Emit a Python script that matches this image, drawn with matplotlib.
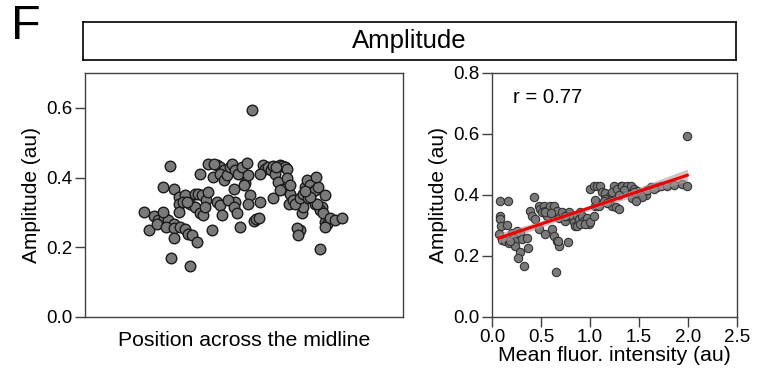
import numpy as np
import matplotlib.pyplot as plt

plt.rcParams['font.family'] = ['Liberation Sans', 'DejaVu Sans']

# left panel: position across the midline (arbitrary units) vs amplitude
pos = [18.4, 20.2, 26.8, 24.5, 27.9, 21.8, 23.1, 24.7, 26.2, 27.9, 24.5, 22.5, 25.6, 28.1, 28.1,
       29.9, 31.4, 32.5, 33.5, 35.3, 26.9, 33.0, 29.4, 29.4, 29.4, 31.4, 30.9, 33.0, 34.6, 34.6,
       36.1, 37.2, 35.6, 36.7, 38.2, 37.7, 36.1, 38.8, 40.3, 38.8, 41.4, 42.4, 43.0, 39.8, 41.4,
       42.4, 43.7, 42.4, 43.7, 44.5, 45.6, 46.3, 47.1, 48.2, 46.7, 47.1, 45.1, 46.7, 47.7, 48.7,
       49.3, 50.8, 50.3, 51.4, 51.9, 51.4, 53.0, 53.9, 54.6, 55.1, 56.1, 56.6, 57.4, 58.5, 59.2,
       59.7, 60.8, 61.3, 62.3, 62.9, 61.9, 62.9, 63.4, 63.4, 64.5, 64.5, 59.2, 61.3, 64.0, 65.5,
       67.6, 66.6, 67.1, 68.1, 68.7, 66.1, 67.6, 68.7, 69.2, 69.7, 70.7, 71.3, 72.3, 73.3, 70.2,
       72.3, 74.4, 73.8, 75.5, 76.0, 74.9, 72.8, 70.7, 69.2, 72.6, 77.0, 78.6, 80.7, 73.9, 75.5,
       75.5, 60.0, 55.0, 50.0, 40.5, 32.0, 52.5]
amp = [0.300, 0.249, 0.433, 0.372, 0.366, 0.290, 0.279, 0.287, 0.277, 0.268, 0.301, 0.266, 0.258,
       0.254, 0.227, 0.258, 0.253, 0.239, 0.234, 0.215, 0.170, 0.145, 0.344, 0.325, 0.301, 0.349,
       0.330, 0.325, 0.354, 0.316, 0.297, 0.292, 0.354, 0.349, 0.335, 0.316, 0.411, 0.438, 0.402,
       0.359, 0.330, 0.321, 0.292, 0.249, 0.435, 0.431, 0.421, 0.411, 0.392, 0.407, 0.431, 0.438,
       0.421, 0.411, 0.368, 0.330, 0.335, 0.316, 0.297, 0.258, 0.431, 0.441, 0.383, 0.407, 0.349,
       0.325, 0.276, 0.280, 0.285, 0.330, 0.435, 0.426, 0.431, 0.421, 0.433, 0.411, 0.388, 0.435,
       0.368, 0.431, 0.433, 0.431, 0.426, 0.400, 0.354, 0.379, 0.340, 0.364, 0.325, 0.335, 0.250,
       0.254, 0.234, 0.297, 0.316, 0.325, 0.340, 0.354, 0.373, 0.392, 0.379, 0.359, 0.364, 0.373,
       0.340, 0.325, 0.316, 0.306, 0.273, 0.268, 0.297, 0.325, 0.344, 0.361, 0.401, 0.283, 0.278,
       0.283, 0.195, 0.258, 0.351, 0.430, 0.410, 0.380, 0.440, 0.330, 0.595]

# right panel: mean fluorescence intensity vs amplitude
inten = [0.078, 0.164, 0.085, 0.078, 0.092, 0.068, 0.102, 0.136, 0.170, 0.153, 0.204, 0.221, 0.238,
         0.255, 0.290, 0.307, 0.358, 0.238, 0.187, 0.283, 0.262, 0.324, 0.368, 0.426, 0.385, 0.409,
         0.443, 0.477, 0.494, 0.528, 0.511, 0.545, 0.562, 0.596, 0.613, 0.630, 0.664, 0.681, 0.715,
         0.477, 0.545, 0.613, 0.630, 0.664, 0.681, 0.675, 0.658, 0.777, 0.750, 0.767, 0.784, 0.818,
         0.835, 0.852, 0.869, 0.903, 0.886, 0.920, 0.937, 0.971, 0.988, 0.869, 0.903, 0.954, 1.005,
         1.039, 1.056, 1.073, 1.090, 1.005, 1.039, 1.073, 1.107, 1.124, 1.158, 1.175, 1.209, 1.227,
         1.158, 1.193, 1.227, 1.261, 1.312, 1.244, 1.227, 1.278, 1.329, 1.363, 1.380, 1.414, 1.448,
         1.482, 1.516, 1.567, 1.618, 1.686, 1.721, 1.789, 1.857, 1.942, 1.993, 1.346, 1.431, 1.141,
         1.175, 1.448, 1.516, 1.584, 1.658, 1.533, 1.465, 1.295, 1.056, 0.744, 0.540, 0.600, 1.300,
         1.993]
amp_r = [0.379, 0.381, 0.332, 0.321, 0.299, 0.271, 0.254, 0.249, 0.244, 0.300, 0.277, 0.260, 0.249,
         0.282, 0.277, 0.255, 0.260, 0.234, 0.249, 0.214, 0.193, 0.168, 0.225, 0.392, 0.349, 0.332,
         0.321, 0.364, 0.353, 0.364, 0.343, 0.349, 0.332, 0.364, 0.342, 0.364, 0.348, 0.326, 0.343,
         0.288, 0.272, 0.288, 0.266, 0.249, 0.233, 0.249, 0.146, 0.247, 0.315, 0.332, 0.343, 0.332,
         0.310, 0.299, 0.332, 0.343, 0.321, 0.332, 0.315, 0.326, 0.305, 0.299, 0.305, 0.305, 0.310,
         0.332, 0.364, 0.365, 0.364, 0.420, 0.428, 0.430, 0.428, 0.410, 0.408, 0.376, 0.398, 0.408,
         0.387, 0.376, 0.363, 0.362, 0.431, 0.430, 0.409, 0.419, 0.430, 0.423, 0.428, 0.431, 0.420,
         0.412, 0.407, 0.400, 0.425, 0.427, 0.428, 0.430, 0.432, 0.436, 0.593, 0.415, 0.390, 0.380,
         0.375, 0.410, 0.405, 0.415, 0.420, 0.395, 0.380, 0.400, 0.385, 0.330, 0.345, 0.340, 0.355,
         0.430]

fig = plt.figure(figsize=(7.61, 3.80), dpi=100)

fig.text(0.014, 0.99, "F", fontsize=35, va='top', ha='left')

# header box
hdr = fig.add_axes([0.109, 0.842, 0.858, 0.100])
hdr.set_xticks([])
hdr.set_yticks([])
for s in hdr.spines.values():
    s.set_linewidth(1.2)
    s.set_color('black')
hdr.text(0.5, 0.5, "Amplitude", ha='center', va='center', fontsize=18.5, transform=hdr.transAxes)

spine_col = '#404040'

# left panel
ax1 = fig.add_axes([0.1117, 0.1658, 0.4179, 0.6421])
ax1.scatter(pos, amp, s=58, c='#7a7a7a', edgecolors='#1a1a1a', linewidths=1.0, zorder=3)
ax1.set_xlim(0, 100)
ax1.set_ylim(0, 0.7)
ax1.set_yticks([0.0, 0.2, 0.4, 0.6])
ax1.set_yticklabels(["0.0", "0.2", "0.4", "0.6"])
ax1.set_xticks([])
ax1.set_xlabel("Position across the midline", fontsize=15.3, labelpad=10)
ax1.set_ylabel("Amplitude (au)", fontsize=15, labelpad=4)
ax1.tick_params(axis='y', labelsize=13.5, length=7, width=1, color=spine_col, pad=2)
for s in ax1.spines.values():
    s.set_color(spine_col)
    s.set_linewidth(1.0)

# right panel
ax2 = fig.add_axes([0.6465, 0.1658, 0.3220, 0.6421])
x = np.array(inten)
y = np.array(amp_r)
ax2.scatter(x, y, s=36, c='#7a7a7a', edgecolors='#333333', linewidths=0.8, zorder=3)

# linear fit with 95% confidence band
b1, b0 = np.polyfit(x, y, 1)
xs = np.linspace(x.min(), x.max(), 100)
ys = b0 + b1 * xs
n = len(x)
resid = y - (b0 + b1 * x)
se = np.sqrt(np.sum(resid ** 2) / (n - 2))
band = 1.98 * se * np.sqrt(1 / n + (xs - x.mean()) ** 2 / np.sum((x - x.mean()) ** 2))
ax2.fill_between(xs, ys - band, ys + band, color='#b09a9a', alpha=0.6, lw=0, zorder=4)
ax2.plot(xs, ys, color='#ee0000', lw=2.2, zorder=5)

ax2.text(0.086, 0.9, "r = 0.77", fontsize=14.7, ha='left', va='center', transform=ax2.transAxes)
ax2.set_xlim(0, 2.5)
ax2.set_ylim(0, 0.8)
ax2.set_xticks([0.0, 0.5, 1.0, 1.5, 2.0, 2.5])
ax2.set_xticklabels(["0.0", "0.5", "1.0", "1.5", "2.0", "2.5"])
ax2.set_yticks([0.0, 0.2, 0.4, 0.6, 0.8])
ax2.set_yticklabels(["0.0", "0.2", "0.4", "0.6", "0.8"])
ax2.set_xlabel("Mean fluor. intensity (au)", fontsize=15.3, labelpad=0)
ax2.set_ylabel("Amplitude (au)", fontsize=15, labelpad=4)
ax2.tick_params(axis='both', labelsize=13.5, length=7, width=1, color=spine_col, pad=2)
for s in ax2.spines.values():
    s.set_color(spine_col)
    s.set_linewidth(1.0)

fig.savefig("out.png", dpi=100)
